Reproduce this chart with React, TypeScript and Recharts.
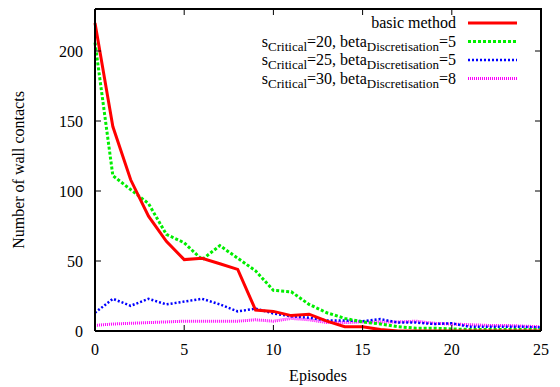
import { LineChart, Line, XAxis, YAxis, Label, ReferenceLine } from 'recharts';

const episodes = [0, 1, 2, 3, 4, 5, 6, 7, 8, 9, 10, 11, 12, 13, 14, 15, 16, 17, 18, 19, 20, 21, 22, 23, 24, 25];
const basicMethod = [220, 146, 108, 82, 64, 51, 52, 48, 44, 15, 14, 11, 12, 7, 3, 3, 1, 0, 0, 0, 0, 0, 0, 0, 0, 0];
const critical20 = [206, 111, 101, 91, 69, 63, 51, 61, 52, 43, 29, 28, 19, 13, 9, 6.5, 5, 3, 2, 2, 1.5, 1, 1, 1, 1, 1];
const critical25 = [13, 23, 18, 23, 19, 21, 23, 19, 14, 16, 12.5, 10.5, 9.5, 7.5, 7.5, 7, 8.5, 6, 6, 5, 5.5, 3, 3, 3, 3, 2.5];
const critical30 = [4, 5, 5.5, 6, 6.5, 7, 7, 7, 7, 8, 7, 9, 8, 6, 6, 6.5, 6.5, 6.5, 7, 5.5, 5, 4.5, 4, 4, 3.5, 3];
const xTicks = [0, 5, 10, 15, 20, 25];
const yTicks = [0, 50, 100, 150, 200];
const X_MAX = 25;
const Y_MAX = 230;

const data = episodes.map((e, i) => ({
  episode: e,
  basic: basicMethod[i],
  c20: critical20[i],
  c25: critical25[i],
  c30: critical30[i],
}));

const FONT = 'Liberation Serif';
const textStyle = { fontFamily: FONT, fontSize: 16, fill: '#000' };

// plot box edges, used for the mirrored inward ticks on top / right
const PLOT_TOP = 9;
const PLOT_RIGHT = 541;
const PLOT_LEFT = 95;
const PLOT_BOTTOM = 331;

const SERIES = [
  { key: 'basic', color: '#ff0000', width: 3, dash: undefined, crit: null, beta: null },
  { key: 'c20', color: '#00ee00', width: 3, dash: '3 2', crit: '20', beta: '5' },
  { key: 'c25', color: '#0000ff', width: 2.5, dash: '2 2', crit: '25', beta: '5' },
  { key: 'c30', color: '#ff00ff', width: 3, dash: '1 1', crit: '30', beta: '8' },
];

function BottomTick({ x, y, payload }: any) {
  return (
    <g>
      <line x1={x} y1={y} x2={x} y2={y - 6} stroke="#000" strokeWidth={1} />
      <line x1={x} y1={PLOT_TOP} x2={x} y2={PLOT_TOP + 6} stroke="#000" strokeWidth={1} />
      <text x={x} y={y + 24} textAnchor="middle" fontFamily={FONT} fontSize={16} style={textStyle}>
        {payload.value}
      </text>
    </g>
  );
}

function LeftTick({ x, y, payload }: any) {
  return (
    <g>
      <line x1={x} y1={y} x2={x + 6} y2={y} stroke="#000" strokeWidth={1} />
      <line x1={PLOT_RIGHT} y1={y} x2={PLOT_RIGHT - 6} y2={y} stroke="#000" strokeWidth={1} />
      <text x={x - 12} y={y + 6} textAnchor="end" fontFamily={FONT} fontSize={16} style={textStyle}>
        {payload.value}
      </text>
    </g>
  );
}

function LegendBox() {
  return (
    <svg width={320} height={80} style={{ position: 'absolute', left: 218, top: 9 }}>
      {SERIES.map((s, i) => {
        const cy = 14 + i * 18.5;
        return (
          <g key={s.key}>
            <text x={238} y={cy + 5} textAnchor="end" fontFamily={FONT} fontSize={16} style={textStyle}>
              {s.crit === null ? (
                'basic method'
              ) : (
                <>
                  <tspan>s</tspan>
                  <tspan fontSize={13} dy={4}>Critical</tspan>
                  <tspan dy={-4}>{`=${s.crit}, beta`}</tspan>
                  <tspan fontSize={13} dy={4}>Discretisation</tspan>
                  <tspan dy={-4}>{`=${s.beta}`}</tspan>
                </>
              )}
            </text>
            <line
              x1={250}
              y1={cy}
              x2={299}
              y2={cy}
              stroke={s.color}
              strokeWidth={s.width}
              strokeDasharray={s.dash}
            />
          </g>
        );
      })}
    </svg>
  );
}

export default function App() {
  return (
    <div style={{ position: 'absolute', left: 0, top: 0, width: 560, height: 387, background: '#fff' }}>
      <LineChart width={560} height={387} data={data} margin={{ top: PLOT_TOP, right: 560 - PLOT_RIGHT, bottom: 0, left: 0 }}>
        <XAxis
          dataKey="episode"
          type="number"
          domain={[0, X_MAX]}
          ticks={xTicks}
          height={56}
          tickSize={0}
          tickMargin={0}
          tickLine={false}
          tick={<BottomTick />}
          axisLine={{ stroke: '#000', strokeWidth: 2 }}
        >
          <Label value="Episodes" position="insideBottom" offset={6} style={textStyle} />
        </XAxis>
        <YAxis
          domain={[0, Y_MAX]}
          ticks={yTicks}
          width={PLOT_LEFT}
          allowDataOverflow
          tickSize={0}
          tickMargin={0}
          tickLine={false}
          tick={<LeftTick />}
          axisLine={{ stroke: '#000', strokeWidth: 2 }}
        >
          <Label
            value="Number of wall contacts"
            angle={-90}
            position="insideLeft"
            offset={18}
            style={{ ...textStyle, textAnchor: 'middle' }}
          />
        </YAxis>
        {/* top and right edges of the frame */}
        <ReferenceLine y={Y_MAX} stroke="#000" strokeWidth={2} ifOverflow="visible" />
        <ReferenceLine x={X_MAX} stroke="#000" strokeWidth={2} ifOverflow="visible" />
        {SERIES.slice()
          .reverse()
          .map((s) => (
            <Line
              key={s.key}
              dataKey={s.key}
              stroke={s.color}
              strokeWidth={s.width}
              strokeDasharray={s.dash}
              dot={false}
              activeDot={false}
              type="linear"
              isAnimationActive={false}
            />
          ))}
      </LineChart>
      <div
        style={{
          position: 'absolute',
          left: PLOT_LEFT,
          top: PLOT_TOP - 1,
          width: PLOT_RIGHT - PLOT_LEFT + 1,
          height: PLOT_BOTTOM - PLOT_TOP,
          borderTop: '2px solid #000',
          borderRight: '2px solid #000',
          boxSizing: 'border-box',
          pointerEvents: 'none',
        }}
      />
      <LegendBox />
    </div>
  );
}
